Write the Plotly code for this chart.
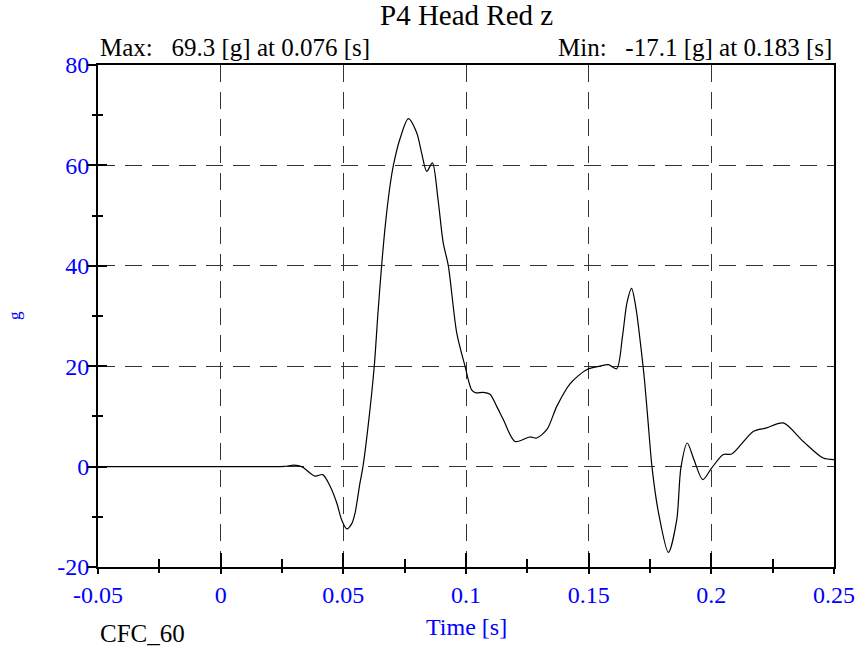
import plotly.graph_objects as go

# time [s] and head acceleration z [g]
time_s = [-0.05, 0.0, 0.02, 0.026, 0.030, 0.033, 0.0385, 0.0416, 0.0446, 0.0473,
          0.0493, 0.0514, 0.0535, 0.0548, 0.0568, 0.058, 0.0602, 0.0626, 0.0641, 0.0656,
          0.0672, 0.0689, 0.0704, 0.0731, 0.0765, 0.0799, 0.0819, 0.084, 0.0863, 0.0886,
          0.0907, 0.0928, 0.0962, 0.0996, 0.1023, 0.104, 0.107, 0.1098, 0.1125, 0.1152,
          0.12, 0.126, 0.1288, 0.133, 0.137, 0.1424, 0.1492, 0.1546, 0.158, 0.1614,
          0.1638, 0.1656, 0.1675, 0.1693, 0.1710, 0.1727, 0.1742, 0.1758, 0.1784, 0.1825,
          0.1859, 0.1876, 0.1902, 0.1929, 0.1965, 0.2001, 0.2049, 0.2083, 0.2171, 0.2225,
          0.2293, 0.2375, 0.2456, 0.25]
accel_g = [0.0, 0.0, 0.0, 0.05, 0.3, 0.0, -1.9, -1.6, -3.9, -7.2,
           -10.6, -12.4, -11.3, -9.2, -3.2, 0.0, 8.5, 20.0, 30.5, 40.0,
           48.5, 55.5, 60.0, 65.3, 69.3, 66.5, 62.5, 58.8, 60.5, 53.2,
           44.6, 40.0, 26.7, 20.0, 15.3, 14.7, 14.8, 14.4, 12.0, 9.4,
           5.0, 5.9, 5.7, 7.4, 12.0, 16.5, 19.3, 20.0, 20.3, 19.5,
           26.0, 32.6, 35.5, 31.5, 25.0, 17.5, 9.0, 0.0, -9.0, -17.1,
           -10.6, -0.2, 4.7, 1.4, -2.6, -0.3, 2.4, 2.5, 7.0, 7.7,
           8.7, 5.0, 1.7, 1.4]

x_ticks = [-0.05, 0, 0.05, 0.1, 0.15, 0.2, 0.25]
x_labels = ["-0.05", "0", "0.05", "0.1", "0.15", "0.2", "0.25"]
y_ticks = [-20, 0, 20, 40, 60, 80]
y_labels = ["-20", "0", "20", "40", "60", "80"]

SERIF = "Liberation Serif"
BLUE = "#0000ff"
GRID_DASH = "17px,10px"
X_RANGE = [-0.05, 0.25]
Y_RANGE = [-20, 80]

fig = go.Figure()
fig.add_trace(go.Scatter(x=time_s, y=accel_g, mode="lines",
                         line=dict(color="black", width=1.2, shape="spline", smoothing=0.8),
                         hoverinfo="skip"))
# empty traces so the overlay axes (extra tick sets) get drawn
fig.add_trace(go.Scatter(x=[], y=[], xaxis="x2", yaxis="y2"))
fig.add_trace(go.Scatter(x=[], y=[], xaxis="x2", yaxis="y3"))

tick_common = dict(tickwidth=1.5, tickcolor="black", zeroline=False, automargin=False)

fig.update_layout(
    width=856, height=647,
    margin=dict(l=98, r=22, t=65, b=80),
    paper_bgcolor="white", plot_bgcolor="white",
    showlegend=False,
    font=dict(family=SERIF, size=25, color="black"),
    xaxis=dict(range=X_RANGE, tickvals=x_ticks, ticktext=x_labels,
               ticks="outside", ticklen=5,
               minor=dict(ticks="outside", ticklen=4, dtick=0.025, tick0=0, tickcolor="black"),
               tickfont=dict(family=SERIF, size=24, color=BLUE),
               showline=True, linecolor="black", linewidth=2, mirror=True,
               showgrid=True, gridcolor="#333", gridwidth=1, griddash=GRID_DASH,
               **tick_common),
    yaxis=dict(range=Y_RANGE, tickvals=y_ticks, ticktext=y_labels,
               ticks="outside", ticklen=5, ticklabelstandoff=-3,
               minor=dict(ticks="outside", ticklen=4, dtick=10, tick0=0, tickcolor="black"),
               tickfont=dict(family=SERIF, size=24, color=BLUE),
               showline=True, linecolor="black", linewidth=2, mirror=True,
               showgrid=True, gridcolor="#333", gridwidth=1, griddash=GRID_DASH,
               **tick_common),
    # inner halves of the ticks
    xaxis2=dict(overlaying="x", range=X_RANGE, tickvals=x_ticks,
                ticks="inside", ticklen=14,
                minor=dict(ticks="inside", ticklen=8, dtick=0.025, tick0=0, tickcolor="black"),
                showticklabels=False, showgrid=False, showline=False, **tick_common),
    yaxis2=dict(overlaying="y", range=Y_RANGE, tickvals=y_ticks,
                ticks="inside", ticklen=9,
                minor=dict(ticks="inside", ticklen=5, dtick=10, tick0=0, tickcolor="black"),
                showticklabels=False, showgrid=False, showline=False, **tick_common),
    # longer outer y ticks, labels stay close to the axis
    yaxis3=dict(overlaying="y", range=Y_RANGE, tickvals=y_ticks,
                ticks="outside", ticklen=10,
                showticklabels=False, showgrid=False, showline=False, **tick_common),
)

fig.add_annotation(text="P4 Head Red z", xref="paper", yref="paper", x=0.5, y=1,
                   yshift=50, showarrow=False, font=dict(size=29),
                   xanchor="center", yanchor="middle")
fig.add_annotation(text="Max:   69.3 [g] at 0.076 [s]", xref="paper", yref="paper",
                   x=0, y=1, xanchor="left", yanchor="middle", yshift=18, showarrow=False)
fig.add_annotation(text="Min:   -17.1 [g] at 0.183 [s]", xref="paper", yref="paper",
                   x=1, y=1, xanchor="right", yanchor="middle", yshift=18, showarrow=False)
fig.add_annotation(text="Time [s]", xref="paper", yref="paper", x=0.5, y=0,
                   yshift=-60, xanchor="center", yanchor="middle", showarrow=False,
                   font=dict(size=24, color=BLUE))
fig.add_annotation(text="CFC_60", xref="paper", yref="paper", x=0, y=0, xanchor="left",
                   yshift=-66, yanchor="middle", showarrow=False)
fig.add_annotation(text="g", xref="paper", yref="paper", x=0, y=0.5, xshift=-84,
                   xanchor="center", yanchor="middle",
                   textangle=-90, showarrow=False, font=dict(size=17, color=BLUE))

# drop the default body margin so the figure sits at the window's top-left corner
fig.write_html("out.html", config={"displayModeBar": False},
               post_script="document.body.style.margin = '0';")
